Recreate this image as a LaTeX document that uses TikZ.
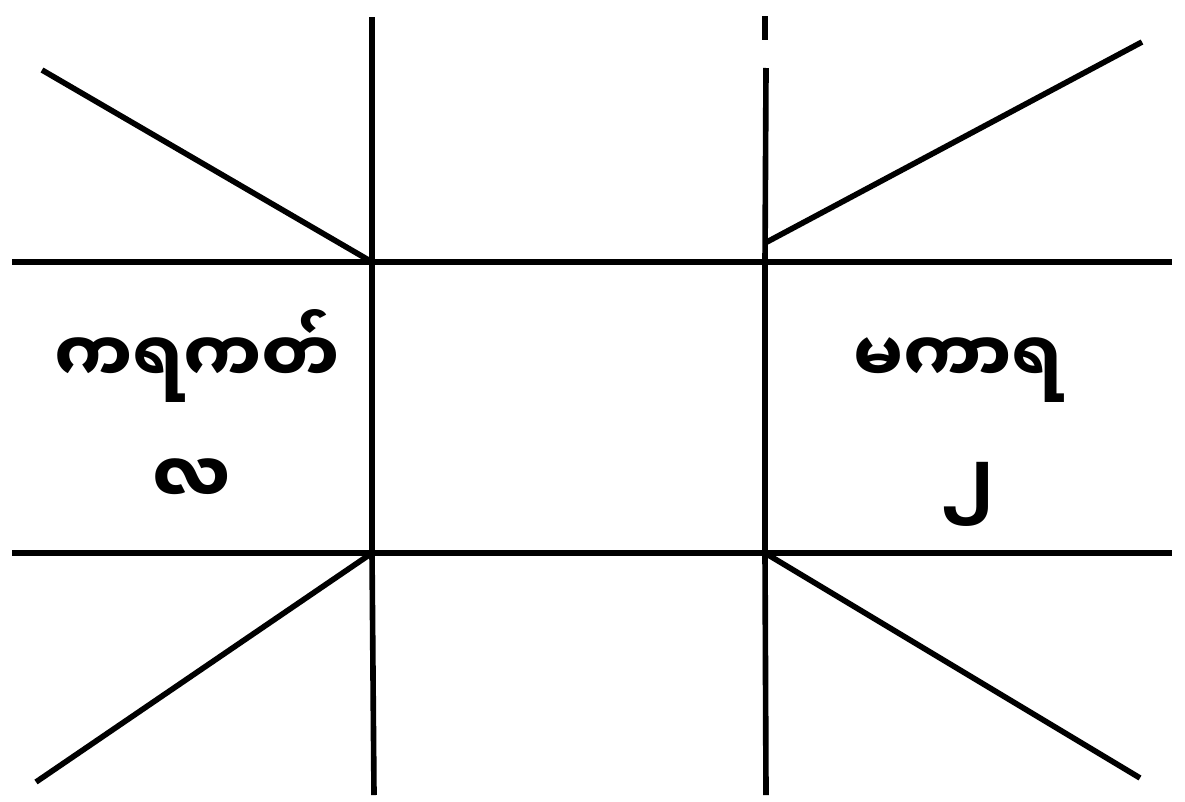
\documentclass[tikz,border=0pt]{standalone}
\usepackage{fontspec}
\newfontfamily\mmfont[Script=Myanmar]{Noto Sans Myanmar UI}
\usetikzlibrary{positioning}
\tikzset{
  rule/.style={line width=3.2pt,black},
  sign/.style={font=\mmfont\bfseries\fontsize{40}{46}\selectfont,inner sep=0pt},
}

\begin{document}
\begin{tikzpicture}[x=0.02cm,y=-0.02cm]
  \useasboundingbox (0,0) rectangle (1185,801);
  % Crossings of the grid
  \coordinate (tl) at (372,262);
  \coordinate (tr) at (765,262);
  \coordinate (bl) at (372,553);
  \coordinate (br) at (765,553);
  % Free ends
  \coordinate (lt) at (372,17);
  \coordinate (lb) at (374,795);
  \coordinate (rdash1) at (765,16);
  \coordinate (rdash2) at (765,40);
  \coordinate (rt) at (766,68);
  \coordinate (rb) at (766,795);
  \coordinate (htl) at (12,262);
  \coordinate (htr) at (1172,262);
  \coordinate (hbl) at (12,553);
  \coordinate (hbr) at (1172,553);
  \coordinate (dtl) at (42,70);
  \coordinate (dtr) at (1142,42);
  \coordinate (dtr0) at (765,243);
  \coordinate (dbl) at (36,782);
  \coordinate (dbr) at (1140,778);
  % Grid
  \draw[rule] (lt) -- (tl) -- (bl) -- (lb);
  \draw[rule] (rdash1) -- (rdash2);
  \draw[rule] (rt) -- (tr) -- (br) -- (rb);
  \draw[rule] (htl) -- (tl) -- (tr) -- (htr);
  \draw[rule] (hbl) -- (bl) -- (br) -- (hbr);
  % Diagonals
  \draw[rule] (dtl) -- (tl);
  \draw[rule] (dtr0) -- (dtr);
  \draw[rule] (bl) -- (dbl);
  \draw[rule] (br) -- (dbr);
  % Labels
  \node[sign,anchor=base] (cancer) at (197,383) {ကရကတ်};
  \node[sign,anchor=base] (cancerno) at (192,504) {လ};
  \node[sign,anchor=base] (capri) at (958,383) {မကာရ};
  \node[sign] (caprino) at (967,494) {၂};
\end{tikzpicture}
\end{document}
